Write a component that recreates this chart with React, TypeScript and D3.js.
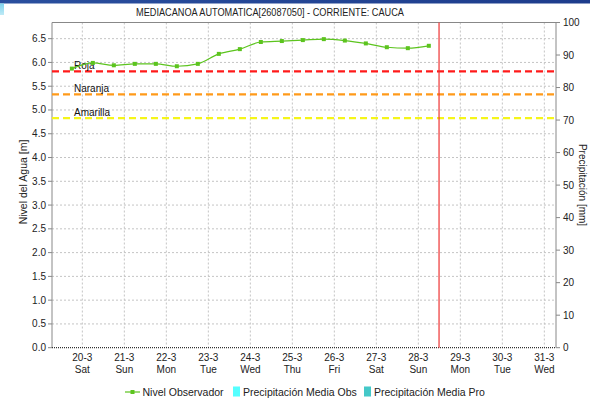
import React from "react";
import * as d3 from "d3";

const titleText = "MEDIACANOA AUTOMATICA[26087050] - CORRIENTE: CAUCA";
const leftAxisTitle = "Nivel del Agua [m]";
const rightAxisTitle = "Precipitación [mm]";

const obsTimes = [
  "2021-03-19 18:00", "2021-03-20 06:00", "2021-03-20 18:00", "2021-03-21 06:00",
  "2021-03-21 18:00", "2021-03-22 06:00", "2021-03-22 18:00", "2021-03-23 06:00",
  "2021-03-23 18:00", "2021-03-24 06:00", "2021-03-24 18:00", "2021-03-25 06:00",
  "2021-03-25 18:00", "2021-03-26 06:00", "2021-03-26 18:00", "2021-03-27 06:00",
  "2021-03-27 18:00", "2021-03-28 06:00",
];
const nivelObservador = [
  5.87, 5.99, 5.94, 5.97, 5.97, 5.92, 5.97, 6.18, 6.28,
  6.43, 6.45, 6.47, 6.49, 6.46, 6.40, 6.32, 6.30, 6.35,
];

const thresholdNames = ["Roja", "Naranja", "Amarilla"];
const thresholdValues = [5.81, 5.33, 4.83];
const thresholdColors = ["#ff1a1a", "#ff9a1a", "#f5f51a"];

const xStart = "2021-03-19 06:40";
const xEnd = "2021-03-31 06:40";
const nowTime = "2021-03-28 11:50";

const leftTicks = [0, 0.5, 1, 1.5, 2, 2.5, 3, 3.5, 4, 4.5, 5, 5.5, 6, 6.5];
const rightTicks = [0, 10, 20, 30, 40, 50, 60, 70, 80, 90, 100];
const leftMax = 6.84;
const rightMax = 100;

const legendLabels = ["Nivel Observador", "Precipitación Media Obs", "Precipitación Media Pro"];
const legendColors = ["#5cc41e", "#55ffff", "#44c8c8"];

const W = 590;
const H = 403;
const M = { left: 52, right: 556, top: 22.5, bottom: 347.7 };
const FONT = "'Liberation Sans', Arial, sans-serif";

export default function App() {
  const parse = d3.timeParse("%Y-%m-%d %H:%M");
  const x = d3
    .scaleTime()
    .domain([parse(xStart)!, parse(xEnd)!])
    .range([M.left, M.right]);
  const y = d3.scaleLinear().domain([0, leftMax]).range([M.bottom, M.top]);
  const y2 = d3.scaleLinear().domain([0, rightMax]).range([M.bottom, M.top]);

  const days = d3.timeDay.range(parse("2021-03-20 00:00")!, parse("2021-04-01 00:00")!);
  const fmtDate = d3.timeFormat("%-d-%-m");
  const fmtDay = d3.timeFormat("%a");

  const pts = obsTimes.map((t, i) => [x(parse(t)!), y(nivelObservador[i])] as [number, number]);
  const lineGen = d3.line().curve(d3.curveMonotoneX);
  const path = lineGen(pts) || "";

  const green = legendColors[0];
  const grid = "#c4c4c4";

  return (
    <svg
      width={W}
      height={H}
      style={{ position: "absolute", left: 0, top: 0, display: "block", background: "#fff" }}
      fontFamily={FONT}
    >
      <defs>
        <linearGradient id="topbar" x1="0" x2="1" y1="0" y2="0">
          <stop offset="0" stopColor="#2a4f9e" />
          <stop offset="1" stopColor="#1d3c8c" />
        </linearGradient>
        <linearGradient id="corner" x1="0" x2="0" y1="0" y2="1">
          <stop offset="0" stopColor="#7fd4ee" />
          <stop offset="1" stopColor="#bfeaf6" />
        </linearGradient>
      </defs>
      <rect x={0} y={0} width={W} height={H} fill="#fff" />
      <rect x={0} y={0} width={W} height={3.5} fill="url(#topbar)" />
      <rect x={0} y={3.5} width={4} height={11.5} fill="url(#corner)" />

      <text x={270} y={16} textAnchor="middle" fontSize={10.5} fill="#222" textLength={268} lengthAdjust="spacingAndGlyphs">
        {titleText}
      </text>

      {/* horizontal grid */}
      {leftTicks.filter((v) => v > 0).map((v) => (
        <line key={"h" + v} x1={M.left} x2={M.right} y1={y(v)} y2={y(v)} stroke={grid} strokeWidth={1} strokeDasharray="2,2" />
      ))}
      {/* vertical grid */}
      {days.map((d, i) => (
        <line key={"v" + i} x1={x(d)} x2={x(d)} y1={M.top} y2={M.bottom} stroke={grid} strokeWidth={1} strokeDasharray="2,2" />
      ))}

      {/* frame */}
      <line x1={M.left} x2={M.right} y1={M.top} y2={M.top} stroke="#888" strokeWidth={1} />
      <line x1={M.left} x2={M.left} y1={M.top} y2={M.bottom} stroke="#888" strokeWidth={1} />
      <line x1={M.right} x2={M.right} y1={M.top} y2={M.bottom} stroke="#888" strokeWidth={1} />
      <line x1={M.left} x2={M.right} y1={M.bottom} y2={M.bottom} stroke="#333" strokeWidth={1.2} strokeDasharray="1,1" />

      {/* thresholds */}
      {thresholdValues.map((v, i) => (
        <g key={"t" + i}>
          <line x1={M.left} x2={M.right} y1={y(v)} y2={y(v)} stroke={thresholdColors[i]} strokeWidth={2.3} strokeDasharray="7,4" />
          <text x={74} y={y(v) - 2.5} fontSize={10} fill="#111">
            {thresholdNames[i]}
          </text>
        </g>
      ))}

      {/* now line */}
      <line x1={x(parse(nowTime)!)} x2={x(parse(nowTime)!)} y1={M.top} y2={M.bottom} stroke="#ee3333" strokeWidth={1.2} />

      {/* series */}
      <path d={path} fill="none" stroke={green} strokeWidth={1.2} />
      {pts.map((p, i) => (
        <rect key={"p" + i} x={p[0] - 2} y={p[1] - 2} width={4} height={4} fill={green} />
      ))}

      {/* left axis */}
      {leftTicks.map((v) => (
        <g key={"lt" + v}>
          <line x1={M.left - 4} x2={M.left} y1={y(v)} y2={y(v)} stroke="#888" />
          <text x={M.left - 6} y={y(v) + 3.5} textAnchor="end" fontSize={10} fill="#222">
            {v.toFixed(1)}
          </text>
        </g>
      ))}
      {/* right axis */}
      {rightTicks.map((v) => (
        <g key={"rt" + v}>
          <line x1={M.right} x2={M.right + 4} y1={y2(v)} y2={y2(v)} stroke="#888" />
          <text x={M.right + 7} y={y2(v) + 3.5} textAnchor="start" fontSize={10} fill="#222">
            {v}
          </text>
        </g>
      ))}
      {/* x labels */}
      {days.map((d, i) => (
        <g key={"xl" + i}>
          <text x={x(d)} y={360.5} textAnchor="middle" fontSize={10} fill="#222">
            {fmtDate(d)}
          </text>
          <text x={x(d)} y={372.5} textAnchor="middle" fontSize={10} fill="#222">
            {fmtDay(d)}
          </text>
        </g>
      ))}

      {/* axis titles */}
      <text transform={`translate(27,${182}) rotate(-90)`} textAnchor="middle" fontSize={10.5} fill="#222">
        {leftAxisTitle}
      </text>
      <text transform={`translate(578.5,${185}) rotate(90)`} textAnchor="middle" fontSize={10} fill="#222">
        {rightAxisTitle}
      </text>

      {/* legend */}
      <line x1={125} x2={140} y1={392} y2={392} stroke={green} strokeWidth={1.2} />
      <rect x={130.5} y={390} width={4} height={4} fill={green} />
      <text x={142.5} y={396} fontSize={10.5} fill="#222">{legendLabels[0]}</text>
      <rect x={233} y={386.5} width={7} height={10} fill={legendColors[1]} />
      <text x={243} y={396} fontSize={10.5} fill="#222">{legendLabels[1]}</text>
      <rect x={364} y={386.5} width={7} height={10} fill={legendColors[2]} />
      <text x={374} y={396} fontSize={10.5} fill="#222">{legendLabels[2]}</text>
    </svg>
  );
}
